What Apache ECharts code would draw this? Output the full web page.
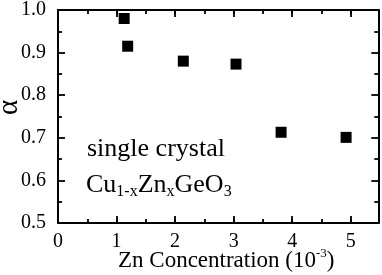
<!DOCTYPE html>
<html>
<head>
<meta charset="utf-8">
<script src="https://cdn.jsdelivr.net/npm/echarts@6/dist/echarts.min.js"></script>
<style>html,body{margin:0;padding:0;background:#fff}#c{width:382px;height:275px}</style>
</head>
<body>
<div id="c"></div>
<script>
var znConc = [1.13, 1.19, 2.14, 3.04, 3.81, 4.92];
var alphaVals = [0.980, 0.915, 0.880, 0.873, 0.713, 0.701];
var xTicks = [0, 1, 2, 3, 4, 5];
var yTicks = [0.5, 0.6, 0.7, 0.8, 0.9, 1.0];

var FONT = '"Liberation Serif", "Times New Roman", serif';
var data = znConc.map(function (x, i) { return [x, alphaVals[i]]; });

var chart = echarts.init(document.getElementById('c'), null, {renderer: 'canvas'});

function xAx(pos, interval, len, showLabel, showLine) {
  return {
    type: 'value', position: pos, min: 0, max: 5.47, interval: interval,
    axisLine: {show: showLine, onZero: false, lineStyle: {color: '#000', width: 2}},
    axisTick: {show: true, inside: true, length: len, lineStyle: {color: '#000', width: 1.8}},
    splitLine: {show: false},
    axisLabel: {
      show: showLabel, showMaxLabel: false, margin: 9,
      fontFamily: FONT, fontSize: 20, color: '#000',
      formatter: function (v) { return xTicks.indexOf(v) >= 0 ? String(v) : ''; }
    }
  };
}
function yAx(pos, showLabel) {
  return {
    type: 'value', position: pos, min: 0.5, max: 1.0, interval: 0.1,
    axisLine: {show: true, onZero: false, lineStyle: {color: '#000', width: 2}},
    axisTick: {show: true, inside: true, length: 7, lineStyle: {color: '#000', width: 1.8}},
    minorTick: {show: true, splitNumber: 2, length: 4, lineStyle: {color: '#000', width: 1.8}},
    splitLine: {show: false},
    axisLabel: {
      show: showLabel, margin: 12,
      fontFamily: FONT, fontSize: 20, color: '#000',
      formatter: function (v) { return v.toFixed(1); }
    }
  };
}

chart.setOption({
  animation: false,
  backgroundColor: '#fff',
  grid: {left: 58, right: 3.7, top: 8.3, bottom: 52, containLabel: false},
  xAxis: [
    xAx('bottom', 1, 7, true, true),
    xAx('bottom', 0.5, 4, false, false),
    xAx('top', 1, 7, false, true),
    xAx('top', 0.5, 4, false, false)
  ],
  yAxis: [yAx('left', true), yAx('right', false)],
  series: [{
    type: 'scatter', xAxisIndex: 0, yAxisIndex: 0,
    symbol: 'rect', symbolSize: 11,
    itemStyle: {color: '#000', opacity: 1},
    data: data
  }],
  graphic: [
    {
      type: 'text', x: 9.5, y: 107.5, rotation: Math.PI / 2,
      style: {text: 'α', fontFamily: FONT, fontSize: 29, fill: '#000', align: 'center', verticalAlign: 'middle'}
    },
    {
      type: 'text', left: 118, top: 247,
      style: {
        text: '{m|Zn Concentration (10}{s|-3}{m|)}',
        fill: '#000',
        rich: {
          m: {fontFamily: FONT, fontSize: 23, lineHeight: 25, verticalAlign: 'bottom', fill: '#000'},
          s: {fontFamily: FONT, fontSize: 13, lineHeight: 13, verticalAlign: 'top', fill: '#000'}
        }
      }
    },
    {
      type: 'text', left: 87, top: 136,
      style: {text: 'single crystal', fontFamily: FONT, fontSize: 26, fill: '#000'}
    },
    {
      type: 'text', left: 86, top: 172,
      style: {
        text: '{m|Cu}{s|1-x}{m|Zn}{s|x}{m|GeO}{s|3}',
        fill: '#000',
        rich: {
          m: {fontFamily: FONT, fontSize: 26, lineHeight: 28, verticalAlign: 'top', fill: '#000'},
          s: {fontFamily: FONT, fontSize: 16, lineHeight: 16, verticalAlign: 'bottom', fill: '#000'}
        }
      }
    }
  ]
});
</script>
</body>
</html>
